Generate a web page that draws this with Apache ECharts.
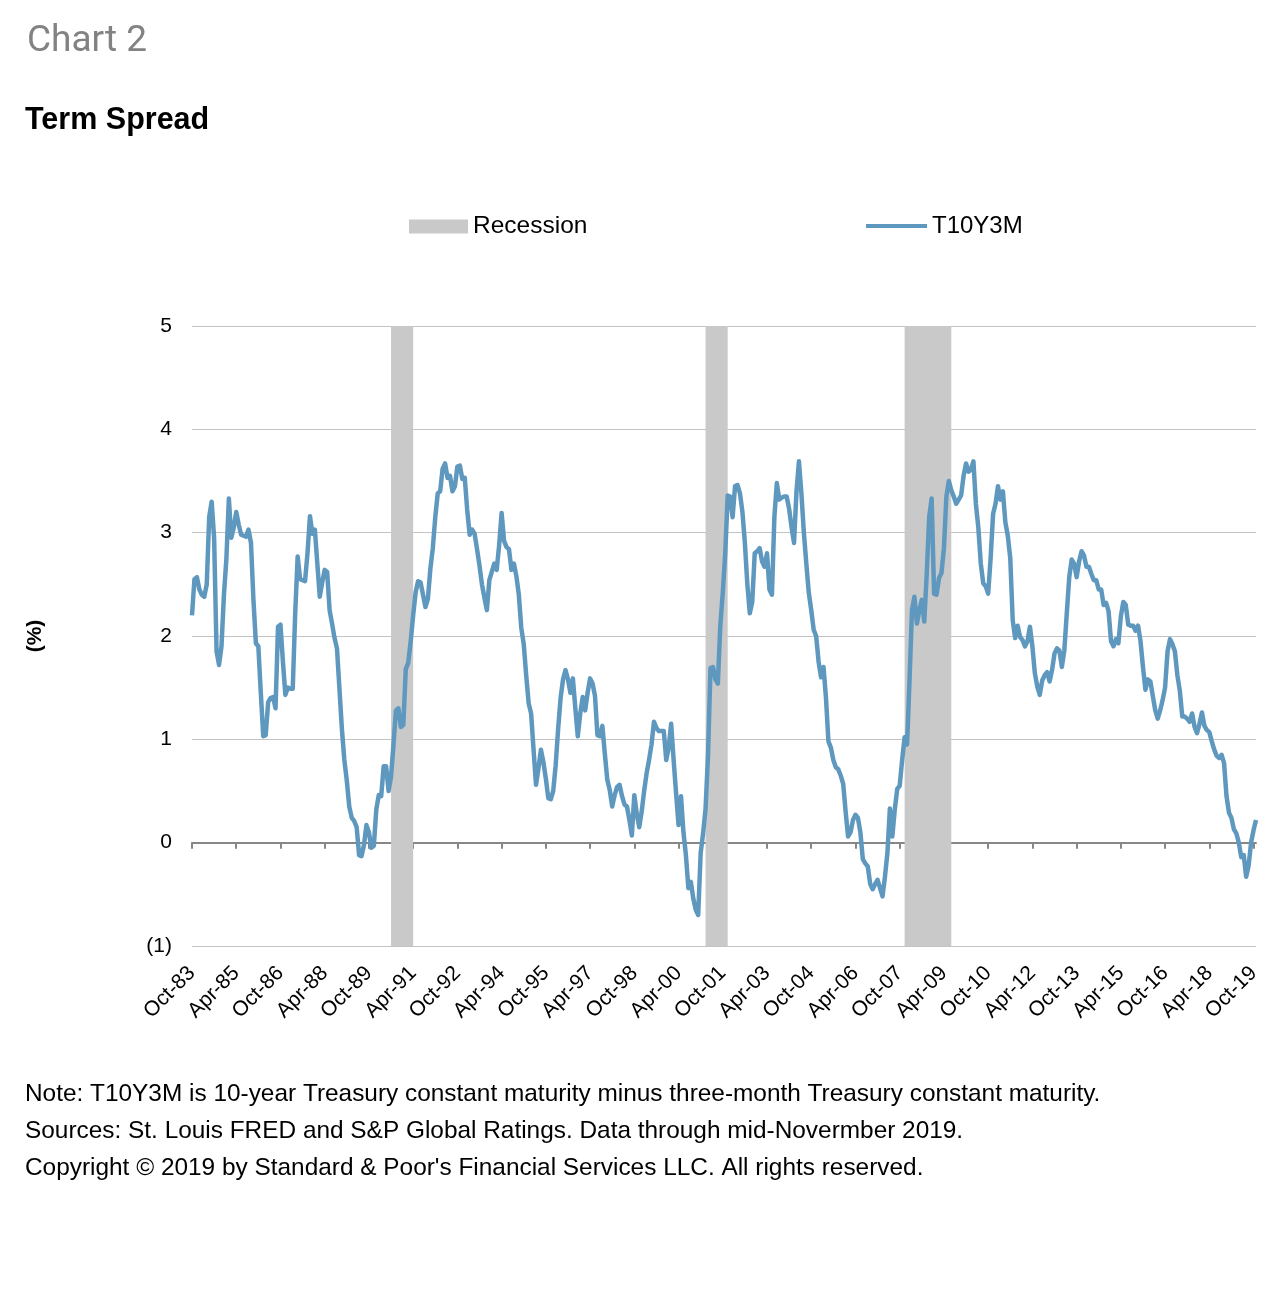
<!DOCTYPE html>
<html>
<head>
<meta charset="utf-8">
<script src="https://cdn.jsdelivr.net/npm/echarts@6/dist/echarts.min.js"></script>
<style>
html,body{margin:0;padding:0;background:#fff;}
#chart{width:1288px;height:1300px;}
</style>
</head>
<body>
<div id="chart"></div>
<script>
// Monthly T10Y3M (%), Oct-83 .. Nov-19
const spread1980s = [
  2.20, 2.55, 2.57,                                                     // 1983 Oct-Dec
  2.45, 2.40, 2.38, 2.50, 3.15, 3.30, 2.95, 1.85, 1.72, 1.90, 2.40, 2.75, // 1984
  3.33, 2.95, 3.05, 3.20, 3.08, 2.98, 2.97, 2.96, 3.03, 2.90, 2.35, 1.93, // 1985
  1.90, 1.45, 1.03, 1.04, 1.36, 1.40, 1.41, 1.30, 2.09, 2.11, 1.75, 1.43, // 1986
  1.50, 1.49, 1.49, 2.22, 2.77, 2.55, 2.54, 2.53, 2.80, 3.16, 2.99, 3.03, // 1987
  2.70, 2.38, 2.52, 2.64, 2.62, 2.25, 2.12, 1.98, 1.88, 1.49, 1.10, 0.80, // 1988
  0.60, 0.35, 0.24, 0.21, 0.15, -0.12, -0.13, -0.02, 0.17, 0.10, -0.05, -0.03 // 1989
];
const spread1990s = [
  0.32, 0.46, 0.45, 0.74, 0.74, 0.50, 0.64, 0.95, 1.28, 1.30, 1.12, 1.14, // 1990
  1.68, 1.74, 1.95, 2.20, 2.42, 2.53, 2.52, 2.40, 2.28, 2.36, 2.65, 2.85, // 1991
  3.15, 3.38, 3.40, 3.62, 3.67, 3.53, 3.55, 3.40, 3.45, 3.64, 3.65, 3.52, // 1992
  3.53, 3.22, 2.98, 3.03, 2.99, 2.84, 2.68, 2.50, 2.37, 2.25, 2.54, 2.62, // 1993
  2.70, 2.64, 2.88, 3.19, 2.92, 2.86, 2.84, 2.64, 2.70, 2.58, 2.40, 2.08, // 1994
  1.92, 1.62, 1.35, 1.25, 0.90, 0.56, 0.72, 0.90, 0.78, 0.62, 0.43, 0.42, // 1995
  0.50, 0.75, 1.10, 1.40, 1.58, 1.67, 1.58, 1.45, 1.59, 1.30, 1.03, 1.25, // 1996
  1.41, 1.28, 1.45, 1.59, 1.54, 1.42, 1.04, 1.03, 1.13, 0.86, 0.61, 0.51, // 1997
  0.35, 0.46, 0.54, 0.56, 0.45, 0.37, 0.35, 0.22, 0.07, 0.46, 0.28, 0.15, // 1998
  0.30, 0.50, 0.67, 0.80, 0.95, 1.17, 1.11, 1.08, 1.08, 1.08, 0.80, 0.92  // 1999
];
const spread2000s = [
  1.15, 0.80, 0.48, 0.17, 0.45, 0.10, -0.12, -0.44, -0.38, -0.54, -0.65, -0.70, // 2000
  -0.10, 0.09, 0.33, 0.85, 1.69, 1.70, 1.58, 1.54, 2.10, 2.42, 2.80, 3.36, // 2001
  3.35, 3.15, 3.45, 3.46, 3.38, 3.20, 2.90, 2.50, 2.22, 2.33, 2.80, 2.82, // 2002
  2.85, 2.72, 2.67, 2.80, 2.45, 2.40, 3.15, 3.48, 3.32, 3.34, 3.35, 3.35, // 2003
  3.23, 3.05, 2.90, 3.40, 3.69, 3.38, 3.00, 2.70, 2.42, 2.25, 2.06, 2.00, // 2004
  1.75, 1.60, 1.70, 1.40, 0.98, 0.92, 0.80, 0.73, 0.71, 0.65, 0.57, 0.30, // 2005
  0.06, 0.10, 0.22, 0.27, 0.24, 0.10, -0.16, -0.20, -0.23, -0.40, -0.45, -0.40, // 2006
  -0.36, -0.44, -0.52, -0.33, -0.10, 0.33, 0.06, 0.32, 0.52, 0.55, 0.80, 1.02, // 2007
  0.95, 1.57, 2.25, 2.38, 2.12, 2.25, 2.35, 2.14, 2.60, 3.15, 3.33, 2.41, // 2008
  2.40, 2.56, 2.61, 2.85, 3.35, 3.50, 3.41, 3.35, 3.28, 3.32, 3.36, 3.55  // 2009
];
const spread2010s = [
  3.67, 3.59, 3.61, 3.69, 3.28, 3.05, 2.70, 2.51, 2.48, 2.41, 2.75, 3.18, // 2010
  3.28, 3.45, 3.32, 3.40, 3.10, 2.97, 2.75, 2.15, 1.98, 2.10, 1.99, 1.96, // 2011
  1.90, 1.95, 2.09, 1.90, 1.64, 1.51, 1.43, 1.57, 1.62, 1.65, 1.56, 1.67, // 2012
  1.83, 1.88, 1.86, 1.70, 1.86, 2.22, 2.57, 2.74, 2.70, 2.57, 2.72, 2.82, // 2013
  2.78, 2.67, 2.67, 2.60, 2.54, 2.54, 2.45, 2.45, 2.30, 2.32, 2.24, 1.95, // 2014
  1.90, 1.97, 1.93, 2.19, 2.33, 2.30, 2.11, 2.10, 2.10, 2.05, 2.10, 1.95, // 2015
  1.70, 1.48, 1.58, 1.56, 1.42, 1.28, 1.20, 1.28, 1.38, 1.50, 1.85, 1.97, // 2016
  1.92, 1.85, 1.62, 1.47, 1.22, 1.22, 1.20, 1.17, 1.25, 1.12, 1.06, 1.15, // 2017
  1.26, 1.13, 1.09, 1.07, 0.98, 0.90, 0.84, 0.82, 0.85, 0.77, 0.45, 0.29, // 2018
  0.24, 0.13, 0.09, 0.00, -0.14, -0.12, -0.33, -0.22, 0.00, 0.12, 0.22    // 2019 Jan-Nov
];
const spread = spread1980s.concat(spread1990s, spread2000s, spread2010s);

// Month-name categories starting Oct-83
const monthNames = ['Jan','Feb','Mar','Apr','May','Jun','Jul','Aug','Sep','Oct','Nov','Dec'];
const startYear = 1983, startMonth = 9;
const categories = spread.map(function (_, k) {
  const m = (startMonth + k) % 12;
  const y = startYear + Math.floor((startMonth + k) / 12);
  return monthNames[m] + '-' + String(y % 100).padStart(2, '0');
});

// NBER recessions (first and last month)
const recessions = [['Jul-90', 'Mar-91'], ['Mar-01', 'Nov-01'], ['Dec-07', 'Jun-09']];

const yTicks = [-1, 0, 1, 2, 3, 4, 5];
const notes = [
  'Note: T10Y3M is 10-year Treasury constant maturity minus three-month Treasury constant maturity.',
  'Sources: St. Louis FRED and S&P Global Ratings. Data through mid-Novermber 2019.',
  'Copyright \u00A9 2019 by Standard & Poor\'s Financial Services LLC. All rights reserved.'
];

const FONT = '"Liberation Sans", Arial, sans-serif';
const LINE_COLOR = '#5f98be';
const REC_COLOR = '#c9c9c9';

const chart = echarts.init(document.getElementById('chart'), null, {renderer: 'canvas'});

const recAreas = recessions.map(function (r) {
  const endIdx = categories.indexOf(r[1]) + 1;
  return [{xAxis: r[0]}, {xAxis: categories[Math.min(endIdx, categories.length - 1)]}];
});

const option = {
  backgroundColor: '#ffffff',
  animation: false,
  textStyle: {fontFamily: FONT},
  grid: {left: 192, right: 32, top: 326, bottom: 354, containLabel: false},
  legend: [
    {
      data: [{name: 'Recession', icon: 'rect'}],
      left: 409, top: 214, padding: 0,
      itemWidth: 59, itemHeight: 14, itemGap: 7,
      textStyle: {fontFamily: FONT, fontSize: 24.5, color: '#000'}
    },
    {
      data: [{name: 'T10Y3M', icon: 'rect'}],
      left: 866, top: 214, padding: 0,
      itemWidth: 61, itemHeight: 4,
      textStyle: {fontFamily: FONT, fontSize: 24, color: '#000'}
    }
  ],
  xAxis: [
    {
      type: 'category',
      data: categories,
      boundaryGap: false,
      axisLine: {show: false, onZero: false},
      axisTick: {show: false},
      splitLine: {show: false},
      axisLabel: {
        interval: 17, rotate: 45, margin: 24,
        fontFamily: FONT, fontSize: 21, color: '#000'
      }
    },
    {
      type: 'category',
      data: categories,
      boundaryGap: false,
      position: 'bottom',
      axisLine: {show: true, onZero: true, lineStyle: {color: '#878787', width: 2}},
      axisTick: {show: true, interval: 17, length: 6, lineStyle: {color: '#878787', width: 2}},
      axisLabel: {show: false},
      splitLine: {show: false}
    }
  ],
  yAxis: {
    type: 'value',
    min: yTicks[0], max: yTicks[yTicks.length - 1], interval: 1,
    name: '(%)', nameLocation: 'middle', nameGap: 146, nameRotate: 90,
    nameTextStyle: {fontFamily: FONT, fontSize: 21, fontWeight: 'bold', color: '#000'},
    axisLine: {show: false},
    axisTick: {show: false},
    splitLine: {show: true, lineStyle: {color: '#c3c3c3', width: 1}},
    axisLabel: {
      margin: 20, fontFamily: FONT, fontSize: 21, color: '#000',
      formatter: function (v) { return v < 0 ? '(' + (-v) + ')' : String(v); }
    }
  },
  series: [
    {
      name: 'Recession',
      type: 'line',
      data: [],
      color: REC_COLOR,
      itemStyle: {color: REC_COLOR},
      z: 1,
      markArea: {
        silent: true,
        itemStyle: {color: REC_COLOR, opacity: 1},
        data: recAreas
      }
    },
    {
      name: 'T10Y3M',
      type: 'line',
      data: spread,
      color: LINE_COLOR,
      showSymbol: false,
      symbol: 'none',
      smooth: false,
      z: 5,
      lineStyle: {color: LINE_COLOR, width: 4.5, join: 'round'},
      itemStyle: {color: LINE_COLOR}
    }
  ],
  graphic: [
    {type: 'text', left: 27, top: 23, style: {text: 'Chart 2', font: '37px Roboto, "Liberation Sans", sans-serif', fill: '#828282'}},
    {type: 'text', left: 25, top: 105, style: {text: 'Term Spread', font: 'bold 30.5px ' + FONT, fill: '#000'}},
    {type: 'text', left: 25, top: 1082, style: {text: notes[0], font: '24.4px ' + FONT, fill: '#000'}},
    {type: 'text', left: 25, top: 1119, style: {text: notes[1], font: '24.4px ' + FONT, fill: '#000'}},
    {type: 'text', left: 25, top: 1156, style: {text: notes[2], font: '24.4px ' + FONT, fill: '#000'}}
  ]
};
chart.setOption(option);
</script>
</body>
</html>
